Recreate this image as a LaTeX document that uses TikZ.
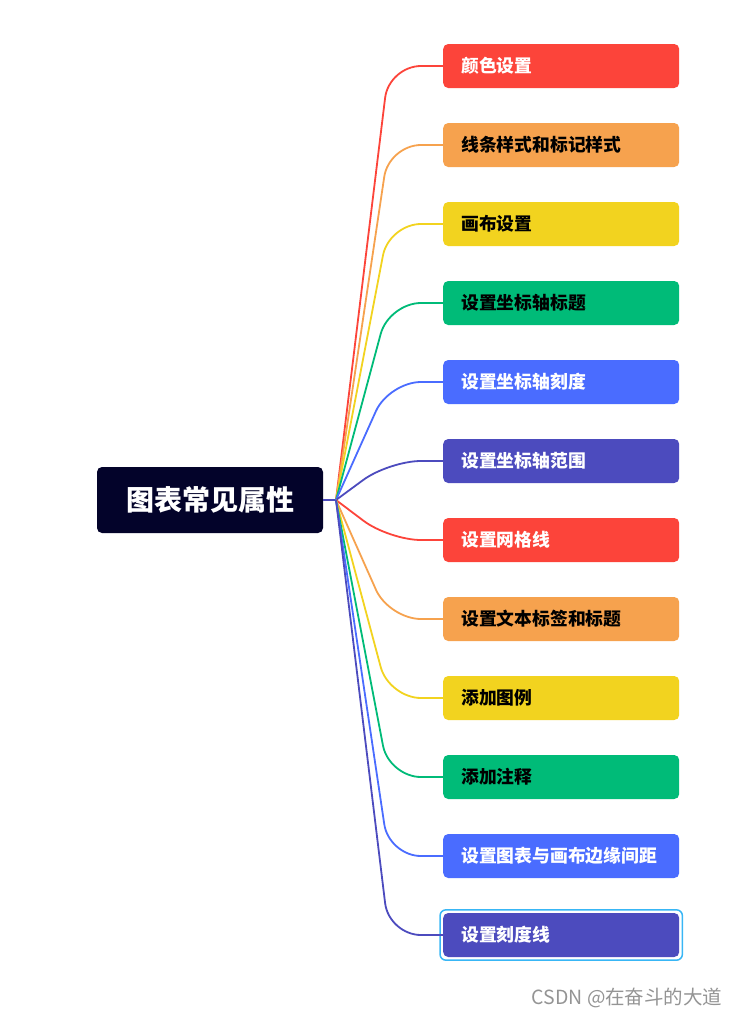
\documentclass[tikz,border=0pt]{standalone}
\usepackage{fontspec}
\setmainfont{Noto Sans CJK SC}
\usetikzlibrary{positioning,calc}

\definecolor{rootnavy}{HTML}{03032A}
\definecolor{mred}{HTML}{FC443A}
\definecolor{morange}{HTML}{F6A24E}
\definecolor{myellow}{HTML}{F2D31F}
\definecolor{mgreen}{HTML}{00BB78}
\definecolor{mblue}{HTML}{4A6CFF}
\definecolor{mpurple}{HTML}{4C4BBE}
\definecolor{selblue}{HTML}{38B6F5}

\begin{document}
\begin{tikzpicture}[x=1pt, y=-1pt,
    topic/.style={rounded corners=5pt, fill=rootnavy, text=white, align=center, font=\fontsize{28}{33}\selectfont\bfseries, minimum width=226pt, minimum height=66pt},
    subtopic/.style={rounded corners=5pt, anchor=west, minimum height=44pt, text width=200pt, inner xsep=18pt, align=left, font=\fontsize{17.8}{21}\selectfont\bfseries},
    branch/.style={line width=1.8pt, rounded corners=32pt}
]
    \useasboundingbox (0,0) rectangle (739,1017);

    \node[topic] (root) at (210,500) {图表常见属性};
    \coordinate (hub) at (336,500);

    \node[subtopic, fill=mred, text=white] (colors) at (443,66) {颜色设置};
    \node[subtopic, fill=morange, text=black] (linestyle) at (443,145) {线条样式和标记样式};
    \node[subtopic, fill=myellow, text=black] (canvas) at (443,224) {画布设置};
    \node[subtopic, fill=mgreen, text=black] (axistitle) at (443,303) {设置坐标轴标题};
    \node[subtopic, fill=mblue, text=white] (axisticks) at (443,382) {设置坐标轴刻度};
    \node[subtopic, fill=mpurple, text=white] (axisrange) at (443,461) {设置坐标轴范围};
    \node[subtopic, fill=mred, text=white] (grid) at (443,540) {设置网格线};
    \node[subtopic, fill=morange, text=black] (labels) at (443,619) {设置文本标签和标题};
    \node[subtopic, fill=myellow, text=black] (legend) at (443,698) {添加图例};
    \node[subtopic, fill=mgreen, text=black] (notes) at (443,777) {添加注释};
    \node[subtopic, fill=mblue, text=white] (margins) at (443,856) {设置图表与画布边缘间距};
    \node[subtopic, fill=mpurple, text=white] (ticklines) at (443,935) {设置刻度线};

    % selection frame round the last topic
    \draw[selblue, line width=1.5pt, rounded corners=6pt]
        ([shift={(-3pt,-3pt)}]ticklines.south west) rectangle ([shift={(3pt,3pt)}]ticklines.north east);

    \draw[line width=1.8pt, mpurple] (root.east) -- (hub);
    \draw[branch, mred] (hub) -- ([xshift=-54pt]colors.west) -- (colors.west);
    \draw[branch, morange] (hub) -- ([xshift=-54pt]linestyle.west) -- (linestyle.west);
    \draw[branch, myellow] (hub) -- ([xshift=-54pt]canvas.west) -- (canvas.west);
    \draw[branch, mgreen] (hub) -- ([xshift=-54pt]axistitle.west) -- (axistitle.west);
    \draw[branch, mblue] (hub) -- ([xshift=-54pt]axisticks.west) -- (axisticks.west);
    \draw[branch, mpurple] (hub) -- ([xshift=-54pt]axisrange.west) -- (axisrange.west);
    \draw[branch, mred] (hub) -- ([xshift=-54pt]grid.west) -- (grid.west);
    \draw[branch, morange] (hub) -- ([xshift=-54pt]labels.west) -- (labels.west);
    \draw[branch, myellow] (hub) -- ([xshift=-54pt]legend.west) -- (legend.west);
    \draw[branch, mgreen] (hub) -- ([xshift=-54pt]notes.west) -- (notes.west);
    \draw[branch, mblue] (hub) -- ([xshift=-54pt]margins.west) -- (margins.west);
    \draw[branch, mpurple] (hub) -- ([xshift=-54pt]ticklines.west) -- (ticklines.west);

    \node[anchor=east, text=black!42, font=\fontsize{19.5}{22}\selectfont] (credit) at (726,998) {CSDN @在奋斗的大道};
\end{tikzpicture}
\end{document}
